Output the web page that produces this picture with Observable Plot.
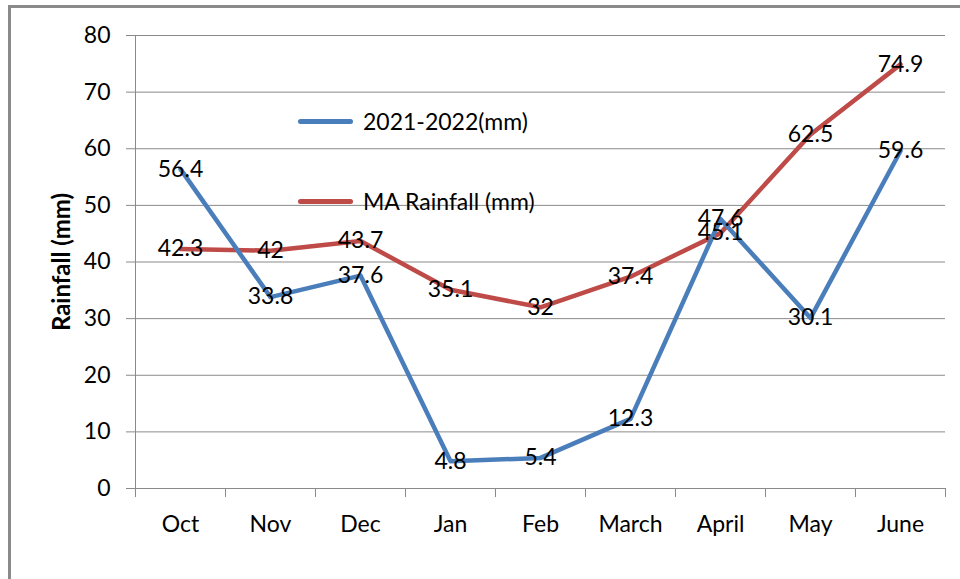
<!DOCTYPE html>
<html>
<head>
<meta charset="utf-8">
<script src="https://cdn.jsdelivr.net/npm/d3@7"></script>
<script src="https://cdn.jsdelivr.net/npm/@observablehq/plot@0.6"></script>
<style>
  body { margin: 0; background: #fff; font-family: Lato, sans-serif; }
  #wrap { position: relative; width: 960px; height: 579px; overflow: hidden; }
  #frame { position: absolute; left: 8px; top: 5px; width: 1000px; height: 1000px;
           border-left: 3px solid #8a8a8a; border-top: 3px solid #8a8a8a; pointer-events: none; }
  .key { position: absolute; left: 298px; display: flex; align-items: center; font-size: 23px; color: #000; }
  .key .sw { width: 55px; height: 5px; border-radius: 3px; margin-right: 10px; }
</style>
</head>
<body>
<div id="wrap">
  <div id="chart"></div>
  <div id="frame"></div>
  <div class="key" style="top:107px"><div class="sw" style="background:#4A7EBB"></div><span>2021-2022(mm)</span></div>
  <div class="key" style="top:187px"><div class="sw" style="background:#BE4B48"></div><span>MA Rainfall (mm)</span></div>
</div>
<script>
// Monthly rainfall, October to June
const months = ["Oct", "Nov", "Dec", "Jan", "Feb", "March", "April", "May", "June"];
const rain2021_2022 = [56.4, 33.8, 37.6, 4.8, 5.4, 12.3, 47.6, 30.1, 59.6];
const maRainfall = [42.3, 42, 43.7, 35.1, 32, 37.4, 45.1, 62.5, 74.9];
const yTicks = [0, 10, 20, 30, 40, 50, 60, 70, 80];

const colors = { season: "#4A7EBB", ma: "#BE4B48" };
const gridColor = "#8a8a8a";

// Each month occupies one unit on the x axis; points sit at the middle of their slot
const slotCenter = (i) => i + 0.5;
const seasonRows = months.map((m, i) => ({ x: slotCenter(i), y: rain2021_2022[i] }));
const maRows = months.map((m, i) => ({ x: slotCenter(i), y: maRainfall[i] }));
const slotEdges = d3.range(months.length + 1);
const slotCenters = months.map((m, i) => slotCenter(i));

const chart = Plot.plot({
  width: 960,
  height: 579,
  marginTop: 35,
  marginBottom: 91,
  marginLeft: 135,
  marginRight: 15,
  style: { fontFamily: "Lato, sans-serif", color: "#000", background: "transparent" },
  x: { type: "linear", domain: [0, months.length], label: null },
  y: { domain: [0, 80], label: null },
  marks: [
    Plot.gridY(yTicks, { stroke: gridColor, strokeOpacity: 1 }),
    Plot.ruleX([0], { y1: 0, y2: 80, stroke: gridColor }),
    Plot.ruleY([0], { stroke: gridColor }),
    Plot.axisY(yTicks, { tickSize: 9, tickPadding: 16, stroke: gridColor, fill: "#000", fontSize: 23, label: null }),
    Plot.axisX(slotEdges, { tickSize: 9, stroke: gridColor, tickFormat: () => "", label: null }),
    Plot.axisX(slotCenters, { tickSize: 0, tickPadding: 27, fill: "#000", fontSize: 23,
                              tickFormat: (d) => months[Math.floor(d)], label: null }),
    Plot.text(["Rainfall (mm)"], { frameAnchor: "left", textAnchor: "middle", dx: -73, rotate: -90,
                                   fontWeight: "bold", fontSize: 24, fill: "#000" }),
    Plot.line(maRows, { x: "x", y: "y", stroke: colors.ma, strokeWidth: 4.5, strokeLinejoin: "round" }),
    Plot.line(seasonRows, { x: "x", y: "y", stroke: colors.season, strokeWidth: 4.5, strokeLinejoin: "round" }),
    Plot.text(maRows, { x: "x", y: "y", text: (d) => String(d.y), fontSize: 23, fill: "#000" }),
    Plot.text(seasonRows, { x: "x", y: "y", text: (d) => String(d.y), fontSize: 23, fill: "#000" })
  ]
});
document.getElementById("chart").appendChild(chart);
</script>
</body>
</html>
